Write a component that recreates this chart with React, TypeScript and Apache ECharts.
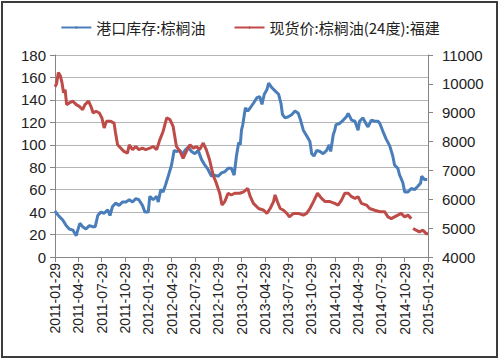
import React, { useEffect, useRef } from "react";
import * as echarts from "echarts";

const quarterLabels = [
  "2011-01-29", "2011-04-29", "2011-07-29", "2011-10-29",
  "2012-01-29", "2012-04-29", "2012-07-29", "2012-10-29",
  "2013-01-29", "2013-04-29", "2013-07-29", "2013-10-29",
  "2014-01-29", "2014-04-29", "2014-07-29", "2014-10-29",
  "2015-01-29",
];

const seriesNames = ["港口库存:棕榈油", "现货价:棕榈油(24度):福建"];

const inventoryDates = [
  "2011-01-29", "2011-02-04", "2011-02-15", "2011-02-28", "2011-03-13", "2011-03-25", "2011-04-08", "2011-04-21", "2011-04-27",
  "2011-05-05", "2011-05-16", "2011-05-29", "2011-06-11", "2011-06-23", "2011-07-04", "2011-07-14", "2011-07-26",
  "2011-08-08", "2011-08-22", "2011-08-31", "2011-09-10", "2011-09-22", "2011-10-06", "2011-10-19",
  "2011-11-02", "2011-11-15", "2011-11-28", "2011-12-11", "2011-12-23", "2012-01-06", "2012-01-16",
  "2012-01-29", "2012-02-04", "2012-02-17", "2012-03-02", "2012-03-08", "2012-03-18", "2012-03-27", "2012-04-05", "2012-04-16",
  "2012-04-29", "2012-05-09", "2012-05-18", "2012-06-01", "2012-06-10", "2012-06-20", "2012-07-03", "2012-07-16",
  "2012-07-29", "2012-08-11", "2012-08-24", "2012-09-06", "2012-09-19", "2012-10-02", "2012-10-15",
  "2012-10-29", "2012-11-11", "2012-11-24", "2012-12-07", "2012-12-20", "2012-12-31", "2013-01-09", "2013-01-18", "2013-01-24",
  "2013-01-29", "2013-02-03", "2013-02-13", "2013-02-22", "2013-03-04", "2013-03-16", "2013-03-30", "2013-04-09", "2013-04-18", "2013-04-27",
  "2013-05-07", "2013-05-14", "2013-05-26", "2013-06-08", "2013-06-22", "2013-07-01", "2013-07-07", "2013-07-17",
  "2013-07-30", "2013-08-13", "2013-08-25", "2013-09-07", "2013-09-16", "2013-09-27", "2013-10-10", "2013-10-23",
  "2013-10-30", "2013-11-08", "2013-11-19", "2013-12-02", "2013-12-14", "2013-12-28", "2014-01-07", "2014-01-13", "2014-01-23",
  "2014-01-29", "2014-02-03", "2014-02-17", "2014-03-03", "2014-03-15", "2014-03-22", "2014-04-04", "2014-04-17",
  "2014-04-29", "2014-05-05", "2014-05-18", "2014-06-01", "2014-06-07", "2014-06-20", "2014-07-03", "2014-07-16", "2014-07-23",
  "2014-08-04", "2014-08-17", "2014-08-31", "2014-09-12", "2014-09-19", "2014-10-02", "2014-10-09", "2014-10-15", "2014-10-22",
  "2014-10-29", "2014-11-11", "2014-11-24", "2014-12-07", "2014-12-20", "2014-12-31", "2015-01-04", "2015-01-15", "2015-01-26",
];
const inventoryValues = [
  41, 39, 36, 33, 28, 25, 24, 19, 24,
  30, 27, 25, 28, 27, 27, 37, 40,
  39, 42, 37, 45, 48, 46, 49,
  49, 51, 49, 52, 51, 46, 40,
  40, 54, 51, 54, 49, 60, 58, 64, 72,
  82, 95, 94, 95, 91, 95, 98, 94,
  92, 95, 87, 82, 78, 72, 73,
  72, 75, 76, 79, 79, 73, 90, 102, 100,
  113, 118, 133, 130, 133, 137, 142, 143, 136, 145,
  149, 155, 151, 148, 145, 137, 127, 124,
  125, 127, 130, 128, 122, 113, 108, 103,
  92, 90, 95, 94, 92, 95, 100, 94, 109,
  113, 118, 119, 122, 125, 128, 122, 121,
  113, 121, 124, 118, 116, 122, 121, 121, 119,
  112, 105, 99, 90, 82, 79, 73, 70, 66,
  58, 58, 61, 60, 63, 66, 72, 69, 69,
];

const priceDates = [
  "2011-01-29", "2011-02-04", "2011-02-11", "2011-02-19", "2011-02-25", "2011-03-03", "2011-03-09", "2011-03-15", "2011-03-25", "2011-04-08", "2011-04-21",
  "2011-05-03", "2011-05-16", "2011-05-25", "2011-06-08", "2011-06-17", "2011-06-26", "2011-07-07", "2011-07-20",
  "2011-07-30", "2011-08-08", "2011-08-17", "2011-09-03", "2011-09-16", "2011-09-22", "2011-09-30", "2011-10-13", "2011-10-25",
  "2011-11-08", "2011-11-15", "2011-11-28", "2011-12-11", "2011-12-23", "2012-01-06", "2012-01-19",
  "2012-02-04", "2012-02-17", "2012-03-02", "2012-03-14", "2012-03-27", "2012-04-10", "2012-04-23",
  "2012-05-05", "2012-05-18", "2012-06-01", "2012-06-13", "2012-06-26", "2012-07-10", "2012-07-23",
  "2012-08-04", "2012-08-17", "2012-08-31", "2012-09-12", "2012-09-25", "2012-10-09", "2012-10-22",
  "2012-11-04", "2012-11-13", "2012-11-24", "2012-12-07", "2012-12-20", "2013-01-02", "2013-01-22",
  "2013-02-06", "2013-02-22", "2013-03-04", "2013-03-16", "2013-04-05", "2013-04-25",
  "2013-05-07", "2013-05-20", "2013-06-02", "2013-06-08", "2013-06-17", "2013-06-28", "2013-07-11", "2013-07-24",
  "2013-08-03", "2013-08-19", "2013-09-07", "2013-09-27", "2013-10-10", "2013-10-23",
  "2013-11-06", "2013-11-22", "2013-12-08", "2013-12-22", "2014-01-10",
  "2014-01-29", "2014-02-11", "2014-02-24", "2014-03-09", "2014-03-22", "2014-04-04", "2014-04-17",
  "2014-04-29", "2014-05-12", "2014-06-01", "2014-06-13", "2014-07-03", "2014-07-23",
  "2014-08-11", "2014-08-24", "2014-09-06", "2014-09-19", "2014-10-02", "2014-10-15",
  "2014-10-29", "2014-11-11", "2014-11-24", "2014-11-27", "2014-12-01", "2014-12-13", "2014-12-26", "2015-01-09", "2015-01-22", "2015-01-29",
];
const priceValues = [
  9900, 10000, 10390, 10270, 10040, 9690, 9800, 9280, 9340, 9400, 9280,
  9220, 9110, 9280, 9400, 9220, 8990, 9050, 8990,
  8820, 8470, 8700, 8700, 8640, 8300, 7890, 7770, 7660,
  7600, 7890, 7720, 7830, 7720, 7770, 7720,
  7770, 7830, 7720, 8060, 8350, 8820, 8760,
  8530, 7830, 7660, 7420, 7660, 7890, 7770,
  7830, 7720, 7950, 7720, 7370, 6840, 6550,
  6210, 5800, 5920, 6210, 6150, 6210, 6210,
  6260, 6380, 6090, 5860, 5680, 5620,
  5510, 5680, 5920, 6150, 5920, 5680, 5620, 5510,
  5390, 5510, 5510, 5450, 5510, 5680,
  5920, 6210, 6030, 5920, 5920,
  5860, 5800, 5970, 6210, 6210, 6090, 6030,
  6090, 5860, 5800, 5680, 5620, 5570,
  5570, 5390, 5330, 5390, 5450, 5510,
  5390, 5450, 5330, null, 4990, 4930, 4870, 4930, 4810, 4810,
];

const quarterTimes = quarterLabels.map((d) => Date.parse(d));
function toQuarterIndex(d: string): number {
  const t = Date.parse(d);
  for (let k = 0; k < quarterTimes.length - 1; k++) {
    if (t <= quarterTimes[k + 1]) {
      return k + (t - quarterTimes[k]) / (quarterTimes[k + 1] - quarterTimes[k]);
    }
  }
  return quarterTimes.length - 1;
}

const numFont = "'Liberation Sans', Arial, sans-serif";

export default function App() {
  const ref = useRef<HTMLDivElement>(null);
  useEffect(() => {
    if (!ref.current) return;
    const chart = echarts.init(ref.current, undefined, { renderer: "svg" });
    chart.setOption({
      animation: false,
      backgroundColor: "#ffffff",
      graphic: [
        {
          type: "rect",
          shape: { x: 2, y: 2, width: 495, height: 355 },
          style: { fill: "none", stroke: "#3c3c3c", lineWidth: 2 },
          silent: true,
        },
      ],
      legend: {
        top: 15,
        left: "center",
        itemWidth: 30,
        itemHeight: 3,
        itemGap: 28,
        textStyle: { fontSize: 15, color: "#222", fontFamily: "'Noto Sans CJK SC', sans-serif" },
        data: seriesNames,
      },
      grid: { left: 55, right: 72, top: 55, bottom: 104, containLabel: false },
      xAxis: {
        type: "value",
        min: 0,
        max: quarterLabels.length - 1,
        interval: 1,
        axisLine: { show: true, lineStyle: { color: "#868686", width: 1 } },
        axisTick: { show: true, length: 5, lineStyle: { color: "#868686" } },
        splitLine: { show: false },
        axisLabel: {
          rotate: 90,
          margin: 6,
          fontSize: 14,
          color: "#222",
          fontFamily: numFont,
          formatter: (v: number) => quarterLabels[Math.round(v)] ?? "",
        },
      },
      yAxis: [
        {
          type: "value",
          min: 0,
          max: 180,
          interval: 20,
          position: "left",
          axisLine: { show: true, lineStyle: { color: "#868686" } },
          axisTick: { show: true, length: 5, lineStyle: { color: "#868686" } },
          splitLine: { show: true, lineStyle: { color: "#b4b4b4", width: 1 } },
          axisLabel: { fontSize: 15, color: "#222", margin: 9, fontFamily: numFont },
        },
        {
          type: "value",
          min: 4000,
          max: 11000,
          interval: 1000,
          position: "right",
          axisLine: { show: true, lineStyle: { color: "#868686" } },
          axisTick: { show: true, length: 5, lineStyle: { color: "#868686" } },
          splitLine: { show: false },
          axisLabel: {
            fontSize: 15,
            color: "#222",
            margin: 14,
            fontFamily: numFont,
            formatter: (v: number) => String(v),
          },
        },
      ],
      series: [
        {
          name: seriesNames[0],
          type: "line",
          yAxisIndex: 0,
          symbol: "none",
          color: "#4a7ebb",
          lineStyle: { color: "#4a7ebb", width: 3 },
          data: inventoryDates.map((d, i) => [toQuarterIndex(d), inventoryValues[i]]),
        },
        {
          name: seriesNames[1],
          type: "line",
          yAxisIndex: 1,
          symbol: "none",
          connectNulls: false,
          color: "#be4b48",
          lineStyle: { color: "#be4b48", width: 3 },
          data: priceDates.map((d, i) => [toQuarterIndex(d), priceValues[i] === null ? "-" : priceValues[i]]),
        },
      ],
    });
    return () => chart.dispose();
  }, []);
  return (
    <div
      ref={ref}
      style={{ position: "fixed", left: 0, top: 0, width: 500, height: 361 }}
    />
  );
}
